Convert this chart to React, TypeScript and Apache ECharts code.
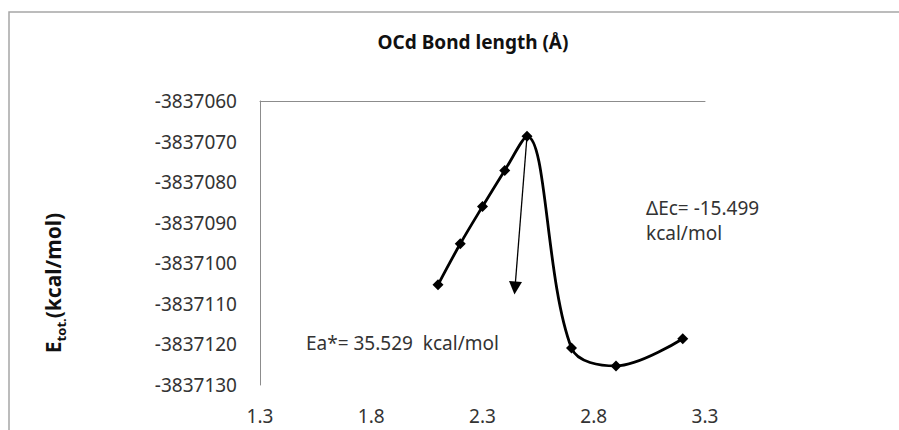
import React, { useEffect, useRef } from "react";
import * as echarts from "echarts";

const bondLength = [2.1, 2.2, 2.3, 2.4, 2.5, 2.7, 2.9, 3.2];
const energy = [
  -3837105.3, -3837095.2, -3837086.0, -3837077.1, -3837068.7, -3837120.9,
  -3837125.3, -3837118.6,
];
const xTickLabels = [1.3, 1.8, 2.3, 2.8, 3.3];
const arrowFrom = [2.5, -3837068.7];
const arrowTo = [2.446, -3837106.1];
const titleText = "OCd Bond length (Å)";
const yTitleText = "{b|E}{s|tot.}{b|(kcal/mol)}";
const eaText = "Ea*= 35.529  kcal/mol";
const ecText = "ΔEc= -15.499\nkcal/mol";

const FONT = "'Noto Sans', 'Open Sans', sans-serif";

export default function App() {
  const ref = useRef<HTMLDivElement>(null);
  useEffect(() => {
    if (!ref.current) return;
    const chart = echarts.init(ref.current, undefined, { renderer: "svg" });
    const data = bondLength.map((x, i) => [x, energy[i]]);
    chart.setOption({
      animation: false,
      backgroundColor: "#ffffff",
      textStyle: { fontFamily: FONT },
      grid: { left: 260, right: 194, top: 101, bottom: 45 },
      xAxis: [
        {
          type: "value",
          position: "bottom",
          min: 1.3,
          max: 3.3,
          axisLine: { show: false },
          axisTick: { show: false },
          splitLine: { show: false },
          axisLabel: {
            customValues: xTickLabels,
            formatter: (v: number) => v.toFixed(1),
            color: "#333333",
            fontSize: 19,
            fontFamily: FONT,
            margin: 21,
          },
        },
        {
          type: "value",
          position: "top",
          min: 1.3,
          max: 3.3,
          axisLine: { show: true, lineStyle: { color: "#8c8c8c", width: 1 } },
          axisTick: { show: false },
          axisLabel: { show: false },
          splitLine: { show: false },
        },
      ],
      yAxis: {
        type: "value",
        min: -3837130,
        max: -3837060,
        interval: 10,
        axisLine: { show: true, lineStyle: { color: "#8c8c8c", width: 1 } },
        axisTick: { show: false },
        splitLine: { show: false },
        axisLabel: {
          formatter: (v: number) => String(v),
          color: "#333333",
          fontSize: 19,
          fontFamily: FONT,
          margin: 23,
        },
      },
      series: [
        {
          type: "line",
          xAxisIndex: 0,
          data,
          smooth: 0.35,
          symbol: "diamond",
          symbolSize: 11,
          itemStyle: { color: "#000000" },
          lineStyle: { color: "#000000", width: 2.8 },
          markLine: {
            silent: true,
            symbol: ["none", "triangle"],
            symbolSize: [13, 13],
            lineStyle: { color: "#000000", width: 1.3, type: "solid" },
            label: { show: false },
            data: [[{ coord: arrowFrom }, { coord: arrowTo }]],
          },
        },
      ],
      graphic: [
        {
          type: "rect",
          shape: { x: 9, y: 12, width: 1000, height: 1000 },
          style: { fill: "none", stroke: "#a6a6a6", lineWidth: 1.5 },
          silent: true,
        },
        {
          type: "text",
          x: 473,
          y: 42,
          style: {
            text: titleText,
            fill: "#111111",
            fontSize: 19,
            fontWeight: "bold",
            fontFamily: FONT,
            align: "center",
            verticalAlign: "middle",
          },
        },
        {
          type: "text",
          x: 53,
          y: 283,
          rotation: Math.PI / 2,
          style: {
            text: yTitleText,
            align: "center",
            verticalAlign: "middle",
            rich: {
              b: {
                fontSize: 21,
                fontWeight: "bold",
                fill: "#111111",
                fontFamily: FONT,
                lineHeight: 28,
                verticalAlign: "middle",
              },
              s: {
                fontSize: 13,
                fontWeight: "bold",
                fill: "#111111",
                fontFamily: FONT,
                lineHeight: 13,
                verticalAlign: "bottom",
              },
            },
          },
        },
        {
          type: "text",
          x: 306,
          y: 343,
          style: {
            text: eaText,
            fill: "#333333",
            fontSize: 19,
            fontFamily: FONT,
            align: "left",
            verticalAlign: "middle",
          },
        },
        {
          type: "text",
          x: 646,
          y: 195,
          style: {
            text: ecText,
            fill: "#333333",
            fontSize: 19,
            lineHeight: 25,
            fontFamily: FONT,
            align: "left",
            verticalAlign: "top",
          },
        },
      ],
    });
    return () => chart.dispose();
  }, []);
  return (
    <div
      ref={ref}
      style={{ position: "fixed", left: 0, top: 0, width: 899, height: 430 }}
    />
  );
}
